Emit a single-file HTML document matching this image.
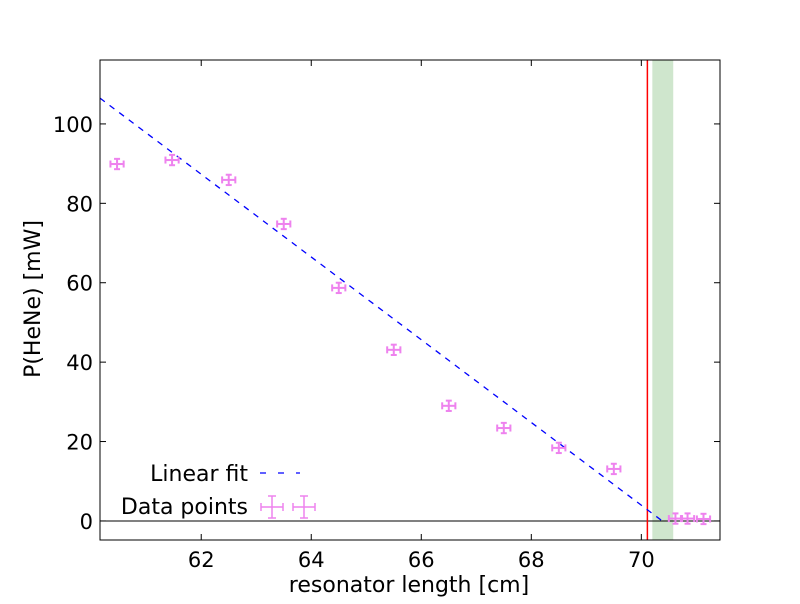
<!DOCTYPE html>
<html><head><meta charset="utf-8"><style>
body{margin:0;background:#fff;font-family:"DejaVu Sans","Liberation Sans",sans-serif;}
svg text{font-family:"DejaVu Sans","Liberation Sans",sans-serif;}
</style></head><body>
<svg id="chart" width="800" height="600" xmlns="http://www.w3.org/2000/svg"></svg>
<script>
const xVals=[60.47,61.47,62.5,63.5,64.5,65.5,66.5,67.5,68.5,69.5,70.62,70.84,71.13];
const yVals=[89.9,90.9,85.9,74.8,58.7,43.1,29.0,23.4,18.4,13.1,0.6,0.6,0.5];
const xErr=[0.12,0.12,0.12,0.12,0.12,0.12,0.12,0.12,0.12,0.12,0.12,0.12,0.12];
const yErr=[1.3,1.3,1.3,1.3,1.3,1.3,1.3,1.3,1.3,1.3,1.3,1.3,1.3];
const xTicks=[62,64,66,68,70];
const yTicks=[0,20,40,60,80,100];
const fitSlope=[-10.42];
const fitZero=[70.38];
const redLine=[70.11];
const band=[70.2,70.58];
const X0=100,X1=720,Y0=60,Y1=540,xmin=60.16,xmax=71.43,ymin=-4.8,ymax=116.1;
const sx=v=>X0+(v-xmin)/(xmax-xmin)*(X1-X0);
const sy=v=>Y1-(v-ymin)/(ymax-ymin)*(Y1-Y0);
const svg=document.getElementById('chart');
const NS='http://www.w3.org/2000/svg';
function mk(t,a,p){const e=document.createElementNS(NS,t);for(const k in a)e.setAttribute(k,a[k]);(p||svg).appendChild(e);return e;}
let e;
e=mk('rect',{x:sx(band[0]),y:Y0,width:sx(band[1])-sx(band[0]),height:Y1-Y0,fill:'#cfe6cd'});


e=mk('line',{x1:X0,x2:X1,y1:sy(0),y2:sy(0),stroke:'#000','stroke-width':1});


e=mk('line',{x1:sx(redLine[0]),x2:sx(redLine[0]),y1:Y0,y2:Y1,stroke:'#ff0000','stroke-width':1.5});


const fy=x=>fitSlope[0]*(x-fitZero[0]);
e=mk('line',{x1:sx(xmin),y1:sy(fy(xmin)),x2:sx(fitZero[0]),y2:sy(0),stroke:'#0000ff','stroke-width':1.3,'stroke-dasharray':'6,6'});


const pc='#ee82ee';
xVals.forEach((x,i)=>{
 const g=mk('g',{stroke:pc,'stroke-width':2});
 
 
 const cx=sx(x),cy=sy(yVals[i]),xl=sx(x-xErr[i]),xr=sx(x+xErr[i]),yt=sy(yVals[i]+yErr[i]),yb=sy(yVals[i]-yErr[i]);
 mk('line',{x1:xl,x2:xr,y1:cy,y2:cy},g);
 mk('line',{x1:cx,x2:cx,y1:yt,y2:yb},g);
 mk('line',{x1:xl,x2:xl,y1:cy-3.5,y2:cy+3.5},g);
 mk('line',{x1:xr,x2:xr,y1:cy-3.5,y2:cy+3.5},g);
 mk('line',{x1:cx-3,x2:cx+3,y1:yt,y2:yt},g);
 mk('line',{x1:cx-3,x2:cx+3,y1:yb,y2:yb},g);
});
e=mk('rect',{x:X0,y:Y0,width:X1-X0,height:Y1-Y0,fill:'none',stroke:'#000','stroke-width':1});


xTicks.forEach(t=>{
 const x=sx(t);
 mk('line',{x1:x,x2:x,y1:Y1,y2:Y1-6,stroke:'#000'});
 mk('line',{x1:x,x2:x,y1:Y0,y2:Y0+6,stroke:'#000'});
 const tx=mk('text',{x:x,y:Y1+27,'text-anchor':'middle','font-size':21});
 tx.textContent=t;
 
 
});
yTicks.forEach(t=>{
 const y=sy(t);
 mk('line',{x1:X0,x2:X0+6,y1:y,y2:y,stroke:'#000'});
 mk('line',{x1:X1,x2:X1-6,y1:y,y2:y,stroke:'#000'});
 const tx=mk('text',{x:X0-7,y:y+8,'text-anchor':'end','font-size':21});
 tx.textContent=t;
 
 
});
e=mk('text',{x:409,y:592,'text-anchor':'middle','font-size':22});
e.textContent='resonator length [cm]';


e=mk('text',{x:40,y:299,'text-anchor':'middle','font-size':22,transform:'rotate(-90 40 299)'});
e.textContent='P(HeNe) [mW]';


const lg=mk('g',{});


e=mk('text',{x:248,y:481,'text-anchor':'end','font-size':22},lg);
e.textContent='Linear fit';


mk('line',{x1:260,x2:300,y1:473,y2:473,stroke:'#0000ff','stroke-width':1.3,'stroke-dasharray':'6,12'},lg);
e=mk('text',{x:248,y:514,'text-anchor':'end','font-size':22},lg);
e.textContent='Data points';


[272,304].forEach(cx=>{
 const g=mk('g',{stroke:pc,'stroke-width':1.5},lg);
 mk('line',{x1:cx-11,x2:cx+11,y1:507,y2:507},g);
 mk('line',{x1:cx,x2:cx,y1:496,y2:518},g);
 mk('line',{x1:cx-11,x2:cx-11,y1:503,y2:511},g);
 mk('line',{x1:cx+11,x2:cx+11,y1:503,y2:511},g);
 mk('line',{x1:cx-4,x2:cx+4,y1:496,y2:496},g);
 mk('line',{x1:cx-4,x2:cx+4,y1:518,y2:518},g);
});
</script>
</body></html>
